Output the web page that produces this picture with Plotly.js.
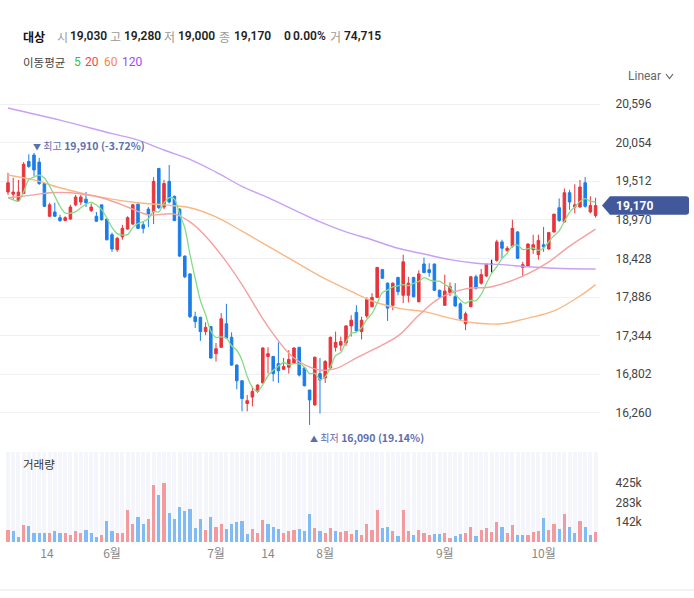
<!DOCTYPE html>
<html><head><meta charset="utf-8">
<script src="https://cdn.plot.ly/plotly-3.0.1.min.js"></script>
<style>html,body{margin:0;padding:0;background:#fff}#chart{width:694px;height:598px}</style>
</head><body><div id="chart"></div>
<script>
// ---------- data ----------
const stockName = '대상';
const opens = [19360,19330,19240,19340,19790,19880,19780,19480,19020,19080,
 19000,18960,18980,19180,19220,19260,19100,19020,19180,18980,
 18760,18550,18730,18840,18910,19190,18900,19120,19080,19690,
 19150,19510,19300,19120,18460,18210,17610,17600,17400,17470,
 17090,17180,17510,17320,16930,16710,16390,16480,16560,16680,
 17050,17050,16950,16870,16900,16960,17180,16890,16580,16370,
 16810,16750,16890,17180,17210,17240,17480,17670,17400,17620,
 17750,17880,18270,18080,17770,18160,17910,17910,18160,17820,
 18350,18270,18350,17980,17770,17950,17890,17790,17510,17750,
 18170,18080,18180,18350,18400,18660,18540,18600,18800,18300,
 18320,18550,18480,18620,18560,18800,19140,18940,19350,19150,
 19150,19490,19080,19030];
const highs = [19630,19560,19530,19780,19890,19910,19840,19490,19210,19210,
 19040,19020,19180,19320,19320,19360,19200,19080,19180,18990,
 18790,18730,18900,19020,19190,19200,18940,19150,19570,19700,
 19530,19740,19310,19130,18470,18220,17680,17610,17530,17480,
 17240,17660,17790,17390,16940,16710,16510,16630,16660,17180,
 17180,17060,17250,17030,17140,17180,17180,16890,16580,17050,
 17030,17000,17330,17400,17330,17490,17630,17770,17610,17880,
 17940,18310,18280,18090,18090,18170,18480,18170,18170,18260,
 18440,18360,18350,17990,18200,18090,18080,17810,17680,18180,
 18200,18280,18350,18410,18690,18690,18600,18970,18810,18380,
 18640,18760,18760,18870,18800,19050,19270,19410,19390,19470,
 19530,19570,19300,19280];
const lows = [19320,19250,19220,19330,19700,19580,19460,19150,19010,19010,
 18940,18950,18970,19160,19180,19150,19080,18940,18960,18680,
 18520,18520,18690,18830,18900,18840,18780,18870,18910,19120,
 19120,19200,18950,18450,18150,17590,17450,17270,17350,17020,
 16980,17170,17300,16920,16590,16280,16280,16350,16540,16670,
 16810,16700,16680,16860,16810,16950,16770,16630,16090,16360,
 16250,16680,16880,17120,17130,17200,17330,17400,17290,17590,
 17740,17870,18140,17550,17700,17910,17800,17810,17880,17810,
 18220,18170,17970,17870,17760,17900,17750,17560,17420,17740,
 17990,18060,18170,18230,18380,18430,18520,18580,18420,18180,
 18310,18490,18410,18520,18550,18790,18940,18930,19110,19060,
 19140,19140,19060,19000];
const closes = [19490,19360,19360,19750,19720,19670,19480,19160,19180,19020,
 18960,19000,19150,19290,19290,19210,19150,18950,18970,18690,
 18560,18710,18850,19000,19180,18850,18850,19050,19510,19140,
 19480,19220,18960,18460,18170,17610,17540,17400,17460,17030,
 17160,17580,17310,16930,16710,16460,16430,16560,16650,17170,
 17090,16810,16850,16910,17010,17170,16790,16640,16440,17040,
 16720,16980,17320,17250,17260,17480,17560,17410,17560,17850,
 17880,18300,18150,17730,18080,17960,18380,18080,17890,18210,
 18230,18230,17980,17890,17970,18030,17760,17580,17650,18170,
 18010,18200,18350,18350,18660,18570,18570,18850,18430,18340,
 18630,18620,18680,18590,18790,19050,18960,19350,19220,19180,
 19430,19160,19170,19170];
const volumes = [83000,76000,37000,119000,117000,68000,68000,68000,61000,76000,
 61000,61000,52000,76000,61000,83000,61000,37000,52000,148000,
 76000,61000,68000,227000,131000,176000,126000,167000,407000,335000,
 426000,207000,167000,251000,220000,239000,102000,162000,88000,181000,
 109000,131000,95000,131000,140000,153000,59000,95000,68000,160000,
 131000,109000,95000,68000,76000,83000,95000,78000,198000,102000,
 78000,66000,102000,78000,71000,78000,59000,88000,52000,126000,
 88000,227000,102000,109000,78000,42000,227000,78000,52000,88000,
 66000,52000,59000,59000,66000,30000,42000,59000,66000,109000,
 42000,88000,102000,71000,145000,109000,66000,119000,52000,52000,
 52000,73000,81000,174000,88000,131000,94000,203000,109000,66000,
 153000,109000,52000,74715];
// volume direction as drawn (1 = up/red, 0 = down/blue)
const volUp = [1,0,0,1,0,0,0,0,1,0,
 0,1,1,1,1,0,0,0,1,0,
 0,1,1,1,1,0,0,1,1,0,
 1,0,0,0,0,0,0,0,1,0,
 1,1,0,0,0,0,0,1,1,1,
 0,0,0,1,1,1,0,0,0,1,
 0,1,1,0,1,1,1,0,1,1,
 1,1,0,0,1,0,1,1,0,1,
 1,1,0,0,1,1,0,0,1,1,
 0,1,1,1,1,0,1,1,0,0,
 1,1,1,0,1,1,0,1,0,0,
 1,0,0,1];
// MA5 for the first four days (earlier closes are not visible)
const ma5Lead = [19280,19250,19230,19360];
// moving averages (day index, value)
const ma20Idx = [0,5,8,12,18,23,27,32,35,38,42,45,50,55,60,63,67,70,75,79,83,88,93,99,104,108,113];
const ma20Val = [19280,19320,19350,19350,19280,19150,19040,19050,18940,18740,18380,18060,17470,17030,16860,16880,17030,17140,17340,17630,17870,18000,18030,18180,18380,18600,18840];
const ma60Idx = [0,5,10,15,20,25,30,35,40,45,50,55,60,65,70,75,80,85,90,95,100,105,110,113];
const ma60Val = [19600,19530,19420,19330,19260,19210,19180,19140,19010,18810,18600,18390,18180,18000,17830,17730,17680,17590,17520,17510,17590,17690,17900,18060];
const ma120Idx = [0,10,20,25,30,35,40,45,50,55,60,65,70,75,80,85,90,95,100,105,113];
const ma120Val = [20540,20370,20180,20090,19950,19820,19640,19440,19280,19110,18940,18800,18690,18570,18490,18410,18360,18340,18310,18290,18280];
const priceTicks = [20596,20054,19512,18970,18428,17886,17344,16802,16260];
const volTicks = [425000,283000,142000];
const volTickText = ['425k','283k','142k'];
const dateTickPos = [7.5,20,40,50,61,84,103];
const dateTickText = ['14','6월','7월','14','8월','9월','10월'];

// ---------- drawing ----------
const FONT = 'Roboto, "Noto Sans CJK KR", sans-serif';
const KFONT = '"Noto Sans CJK KR", Roboto, sans-serif';
const W=694, H=598, M={l:0,r:94,t:85,b:56};
const PW=W-M.l-M.r, PH=H-M.t-M.b;
const px2x = px => (px-M.l)/PW;
const py2y = py => (H-M.b-py)/PH;
const RED='#e9343c', BLUE='#1b7de8';
const VRED='#f39a9e', VBLUE='#80bbf5';
const VOL_MAX = 645000;
const PRICE_RANGE = [15808, 20863];

const n = closes.length;
const idx = closes.map((_,i)=>i);
const pick = (a,ids)=>ids.map(i=>a[i]);
const normIdx = idx.filter(i=>opens[i]!==closes[i]);
const dojiIdx = idx.filter(i=>opens[i]===closes[i]);
const ma5 = closes.map((c,i)=> i<ma5Lead.length ? ma5Lead[i] :
  closes.slice(i-4,i+1).reduce((a,b)=>a+b,0)/5);

const traces = [
  {type:'bar', x:idx, y:idx.map(()=>VOL_MAX), xaxis:'x', yaxis:'y2', width:0.8,
   marker:{color:'#f4f6fb'}, hoverinfo:'skip'},
  {type:'bar', x:idx, y:volumes, xaxis:'x', yaxis:'y2', width:0.6,
   marker:{color:volUp.map(u=>u?VRED:VBLUE)}, hoverinfo:'skip'},
  {type:'candlestick', x:normIdx, open:pick(opens,normIdx), high:pick(highs,normIdx),
   low:pick(lows,normIdx), close:pick(closes,normIdx), xaxis:'x', yaxis:'y',
   increasing:{line:{color:RED,width:1}, fillcolor:RED},
   decreasing:{line:{color:BLUE,width:1}, fillcolor:BLUE}, whiskerwidth:0, hoverinfo:'skip'},
  {type:'candlestick', x:dojiIdx, open:pick(opens,dojiIdx), high:pick(highs,dojiIdx),
   low:pick(lows,dojiIdx), close:pick(closes,dojiIdx), xaxis:'x', yaxis:'y',
   increasing:{line:{color:'#222',width:1.2}, fillcolor:'#222'},
   decreasing:{line:{color:'#222',width:1.2}, fillcolor:'#222'}, whiskerwidth:0, hoverinfo:'skip'},
  {type:'scatter', mode:'lines', x:ma120Idx, y:ma120Val, line:{color:'#c7a0f6', width:1.4, shape:'spline'}, hoverinfo:'skip'},
  {type:'scatter', mode:'lines', x:ma60Idx, y:ma60Val, line:{color:'#f9b883', width:1.4, shape:'spline'}, hoverinfo:'skip'},
  {type:'scatter', mode:'lines', x:ma20Idx, y:ma20Val, line:{color:'#f6a0a0', width:1.4, shape:'spline'}, hoverinfo:'skip'},
  {type:'scatter', mode:'lines', x:idx, y:ma5, line:{color:'#86dc86', width:1.3, shape:'spline', smoothing:0.8}, hoverinfo:'skip'}
];

const fmt = v => Math.round(v).toLocaleString('en-US');
const last = n-1;
const chg = closes[last]-closes[last-1];
const chgPct = (chg/closes[last-1]*100).toFixed(2)+'%';

function txt(px, py, text, color, size, weight, family){
  return {xref:'paper', yref:'paper', x:px2x(px), y:py2y(py), xanchor:'left', yanchor:'middle',
    text:text, showarrow:false, borderpad:0,
    font:{family:family||FONT, size:size||12, color:color, weight:weight||'normal'}};
}
const GRAY='#9a9a9a', DARK='#222';
const ann = [
  txt(22,36,stockName,'#111',12,'bold',KFONT),
  txt(56,36,'시',GRAY,12,'normal',KFONT), txt(69,36,fmt(opens[last]),DARK,12,600),
  txt(109,36,'고',GRAY,12,'normal',KFONT), txt(123,36,fmt(highs[last]),DARK,12,600),
  txt(163,36,'저',GRAY,12,'normal',KFONT), txt(177,36,fmt(lows[last]),DARK,12,600),
  txt(218,36,'종',GRAY,12,'normal',KFONT), txt(233,36,fmt(closes[last]),DARK,12,600),
  txt(283,36,fmt(chg),DARK,12,600), txt(292,36,chgPct,DARK,12,600),
  txt(329,36,'거',GRAY,12,'normal',KFONT), txt(343,36,fmt(volumes[last]),DARK,12,600),
  txt(22,62,'이동평균','#444',11.5,'normal',KFONT),
  txt(73,62,'5','#2fc53a',12), txt(84,62,'20','#f5424b',12),
  txt(103,62,'60','#f7893b',12), txt(121,62,'120','#9a4cf5',12),
  txt(627,76,'Linear','#666',12),
  txt(22,464,'거래량','#333',11.5,'normal',KFONT)
];
// high / low markers
let hiI=0, loI=0;
highs.forEach((v,i)=>{ if(v>highs[hiI]) hiI=i; });
lows.forEach((v,i)=>{ if(v<lows[loI]) loI=i; });
const hiPct = ((closes[last]-highs[hiI])/highs[hiI]*100).toFixed(2);
const loPct = ((closes[last]-lows[loI])/lows[loI]*100).toFixed(2);
const mk = (tri, label, val, pct) =>
  '<span style="font-size:8px">'+tri+'</span> <span style="font-size:10px">'+label+'</span> <b>'+fmt(val)+' ('+pct+'%)</b>';
ann.push({xref:'x', yref:'y', x:hiI, y:highs[hiI], xanchor:'left', yanchor:'bottom', xshift:-2, yshift:-1,
  showarrow:false, borderpad:0, text:mk('▼','최고',highs[hiI],hiPct),
  font:{family:KFONT, size:10.5, color:'#5b70ad'}});
ann.push({xref:'x', yref:'y', x:loI, y:lows[loI], xanchor:'left', yanchor:'top', xshift:-1, yshift:-4,
  showarrow:false, borderpad:0, text:mk('▲','최저',lows[loI],loPct),
  font:{family:KFONT, size:10.5, color:'#5b70ad'}});
// last price tag
const yc = closes[last];
const hh = 9.2*(PRICE_RANGE[1]-PRICE_RANGE[0])/(PH*(1-0.2123));
ann.push({xref:'paper', yref:'y', x:px2x(615), y:yc, xanchor:'left', yanchor:'middle', showarrow:false,
  borderpad:0, text:'<b>'+fmt(yc)+'</b>', font:{family:FONT, size:12, color:'#fff'}});

const shapes = [
  {type:'path', xref:'paper', yref:'y', layer:'above',
   path:`M ${px2x(602)},${yc} L ${px2x(610)},${yc+hh} L ${px2x(686)},${yc+hh} Q ${px2x(689)},${yc+hh} ${px2x(689)},${yc+hh*0.7} L ${px2x(689)},${yc-hh*0.7} Q ${px2x(689)},${yc-hh} ${px2x(686)},${yc-hh} L ${px2x(610)},${yc-hh} Z`,
   fillcolor:'#41599a', line:{width:0}},
  {type:'path', xref:'paper', yref:'paper',
   path:`M ${px2x(666)},${py2y(74)} L ${px2x(669.5)},${py2y(78.5)} L ${px2x(673)},${py2y(74)}`,
   line:{color:'#666', width:1.2}},
  {type:'line', xref:'paper', yref:'paper', x0:px2x(0), x1:px2x(694), y0:py2y(590), y1:py2y(590),
   line:{color:'#e6e6e6', width:1}}
];

const layout = {
  width:W, height:H, margin:M, paper_bgcolor:'#fff', plot_bgcolor:'#fff', showlegend:false,
  font:{family:FONT, size:12, color:'#444'},
  barmode:'overlay', bargap:0, hovermode:false,
  xaxis:{range:[-1.54,113.85], anchor:'y2', tickvals:dateTickPos, ticktext:dateTickText,
    showgrid:false, zeroline:false, showline:false, ticks:'', ticklabelstandoff:3,
    tickfont:{size:12,color:'#888', family:KFONT},
    rangeslider:{visible:false}, fixedrange:true},
  yaxis:{domain:[0.2123,1], range:PRICE_RANGE, side:'right', tickvals:priceTicks, tickformat:',d',
    showgrid:true, gridcolor:'#eef0f3', gridwidth:1, zeroline:false, showline:false,
    ticks:'outside', ticklen:12, tickcolor:'rgba(0,0,0,0)', tickfont:{size:12,color:'#444'}, fixedrange:true},
  yaxis2:{domain:[0,0.197], range:[0,VOL_MAX], side:'right', tickvals:volTicks, ticktext:volTickText,
    showgrid:false, zeroline:false, showline:false,
    ticks:'outside', ticklen:12, tickcolor:'rgba(0,0,0,0)', tickfont:{size:12,color:'#444'}, fixedrange:true},
  annotations:ann, shapes:shapes
};
Plotly.newPlot('chart', traces, layout, {staticPlot:true, displayModeBar:false});
</script></body></html>
